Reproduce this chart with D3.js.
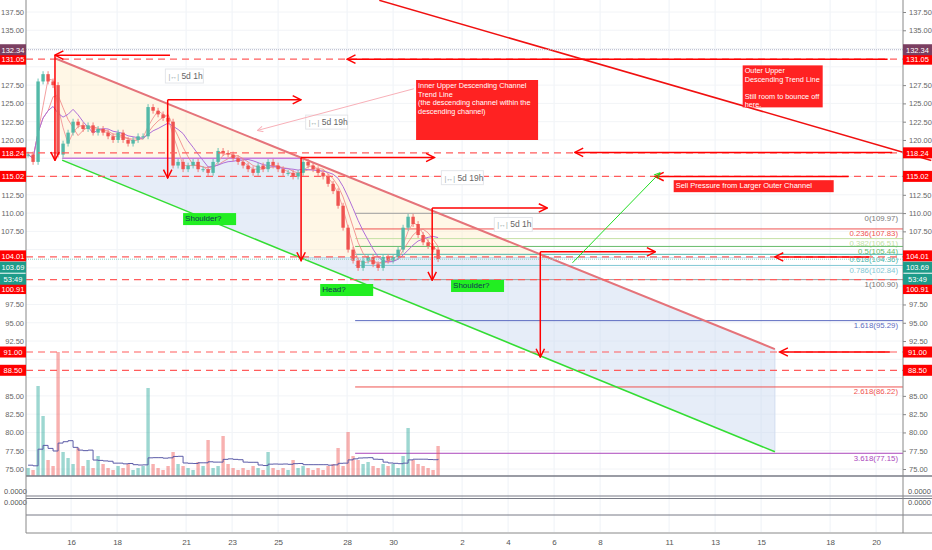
<!DOCTYPE html>
<html>
<head>
<meta charset="UTF-8">
<script src="https://cdn.jsdelivr.net/npm/d3@7/dist/d3.min.js"></script>
<style>
  body { margin: 0; background: #fff; }
  svg { font-family: "Liberation Sans", Arial, sans-serif; }
</style>
</head>
<body>
<svg id="chart" width="932" height="550"></svg>
<script>
// day index 0 = the 16th
const dayTicks = [0, 2, 5, 7, 9, 12, 14, 17, 19, 21, 23, 26, 28, 30, 33, 35];
const dayLabels = ["16", "18", "21", "23", "25", "28", "30", "2", "4", "6", "8", "11", "13", "15", "18", "20"];
const candleStart = -1.87, candleStep = 0.2174;
const closes = [118, 117, 128, 129, 128, 127.5, 118, 119.5, 121, 122.5, 122, 121.5, 122, 121, 121.5, 121, 120.5, 120,
  121, 120, 119.5, 120, 120.5, 120.5, 124.5, 124, 123.5, 123, 122.5, 116.5, 117, 116, 116.5, 117, 116, 116, 115.5,
  117, 118.5, 118.2, 118, 117.5, 117, 116.5, 116, 115.5, 116.5, 116, 117, 116.5, 116, 115.5, 115.5, 115, 115.5, 117,
  116.5, 116, 115.5, 115, 114, 113, 111, 108, 105, 103.5, 102.5, 103.5, 104, 103, 102.5, 104, 103.5, 104, 105, 108,
  109.5, 108.5, 107, 106, 105.5, 105, 103.7];
const volumes = [4, 3, 45, 30, 8, 5, 62, 12, 9, 6, 14, 5, 8, 4, 10, 6, 4, 3, 5, 4, 6, 3, 4, 5, 44, 6, 4, 3, 5, 12,
  6, 5, 4, 3, 7, 5, 18, 4, 5, 20, 6, 4, 3, 4, 3, 5, 4, 3, 12, 4, 3, 4, 3, 8, 4, 5, 4, 3, 4, 3, 5, 6, 14, 5, 22, 10, 8,
  6, 7, 5, 4, 6, 5, 6, 4, 10, 24, 8, 6, 5, 4, 3, 15];
const priceTicks = d3.range(75, 138, 2.5);
const hLevels = [131.05, 118.24, 115.02, 104.01, 100.91, 91.00, 88.50];
const fibRatios = ["0", "0.236", "0.382", "0.5", "0.618", "0.786", "1", "1.618", "2.618", "3.618"];
const fibPrices = [109.97, 107.83, 106.51, 105.44, 104.36, 102.84, 100.90, 95.29, 86.22, 77.15];
const fibColors = ["#9e9e9e", "#ef5350", "#c5e1a5", "#66bb6a", "#4db6ac", "#81c7d4", "#9e9e9e", "#5c6bc0", "#ef5350", "#ab47bc"];
const fibStart = 12.35;
// channel drawing points [day, price]
const upperLine = [[-0.7, 131.17], [30.6, 91.4]];
const lowerLine = [[-0.39, 117.24], [30.6, 77.35]];
const outerLine = [[13.4, 139.1], [37.4, 117.2]];
// measure arrows: [dayStart, dayEnd, priceTop, priceBottom, label, labelDay, labelPrice]
const measures = [
  [-0.7, 4.3, 131.6, 117.2, "5d 1h", 4.1, 129.7],
  [4.2, 10.0, 125.5, 114.8, "5d 19h", 10.2, 123.4],
  [10.0, 15.8, 117.6, 103.5, "5d 19h", 16.1, 115.8],
  [15.7, 20.7, 110.7, 100.8, "5d 1h", 18.4, 109.4],
  [20.4, 25.4, 104.7, 90.3, "", 0, 0]
];
const leftArrows = [[12.0, 35.5, 131.05], [21.9, 35.7, 118.3], [25.4, 33.8, 115.0], [30.6, 34.7, 104.0], [30.8, 35.6, 91.0]];
// axis price tags: value, colour, text, tag offset from level (px)
const tags = [[131.05, "#f00", "131.05", 0], [118.24, "#f00", "118.24", 0], [115.02, "#f00", "115.02", 0],
  [104.01, "#f00", "104.01", -1], [100.91, "#f00", "100.91", 9], [91.00, "#f00", "91.00", 0],
  [88.50, "#f00", "88.50", 0], [132.34, "#7b3f61", "132.34", 0], [103.69, "#1e9c8a", "103.69", 8],
  [103.69, "#1e9c8a", "53:49", 20]];

const svg = d3.select("#chart");
const x = d3.scaleLinear().domain([-1.96, 36.17]).range([26, 903]);
const y = d3.scaleLinear().domain([75, 137.5]).range([469, 12]);
const vol = d3.scaleLinear().domain([0, 60]).range([476, 356]);

const defs = svg.append("defs");
function marker(id, color) {
  defs.append("marker").attr("id", id).attr("viewBox", "0 0 10 10").attr("refX", 9).attr("refY", 5)
    .attr("markerWidth", 7).attr("markerHeight", 7).attr("orient", "auto-start-reverse")
    .append("path").attr("d", "M1,1 L9,5 L1,9").attr("fill", "none").attr("stroke", color).attr("stroke-width", 1.4);
}
marker("ar", "#f00"); marker("ag", "#22dd22"); marker("ap", "#f8b0b8");

// grid
const g = svg.append("g");
g.selectAll(".vg").data(dayTicks).join("line").attr("x1", d => x(d)).attr("x2", d => x(d))
  .attr("y1", 0).attr("y2", 532).attr("stroke", "#eef2f7");
g.selectAll(".hg").data(priceTicks).join("line").attr("x1", 26).attr("x2", 903)
  .attr("y1", d => y(d)).attr("y2", d => y(d)).attr("stroke", "#f2f4f7");

// channel fills
const P = p => [x(p[0]), y(p[1])];
const line = d3.line();
const beige = "rgba(255,238,200,0.45)", blue = "rgba(200,215,240,0.45)";
g.append("path").attr("d", line([P(upperLine[0]), P([10.0, 117.5]), P([-0.39, 117.5])]) + "Z").attr("fill", beige);
g.append("path").attr("d", line([P(lowerLine[0]), P([10.0, 117.5]), P([10.0, 103.9])]) + "Z").attr("fill", blue);
g.append("path").attr("d", line([P([10.0, 117.6]), P([20.9, 103.9]), P([10.0, 103.9])]) + "Z").attr("fill", beige);
g.append("path").attr("d", line([P([10.0, 103.9]), P([20.9, 103.9]), P(upperLine[1]), P(lowerLine[1])]) + "Z").attr("fill", blue);
g.append("line").attr("x1", x(-0.39)).attr("x2", x(10.0)).attr("y1", y(117.5)).attr("y2", y(117.5))
  .attr("stroke", "#c77ddc").attr("stroke-width", 1.5);
g.append("line").attr("x1", x(10.0)).attr("x2", x(30.6)).attr("y1", y(103.9)).attr("y2", y(103.9))
  .attr("stroke", "#b6d7ea").attr("stroke-width", 1);
g.append("line").attr("x1", x(30.6)).attr("x2", x(30.6)).attr("y1", y(91.4)).attr("y2", y(77.35))
  .attr("stroke", "#d0dcef");

// fib levels
fibPrices.forEach((p, i) => {
  g.append("line").attr("x1", x(fibStart)).attr("x2", 903).attr("y1", y(p)).attr("y2", y(p))
    .attr("stroke", fibColors[i]).attr("stroke-width", 1);
  g.append("text").attr("x", 898).attr("y", y(p) + 7.5).attr("text-anchor", "end").attr("font-size", 7.8)
    .attr("fill", fibColors[i] === "#9e9e9e" ? "#777" : fibColors[i]).text(`${fibRatios[i]}(${p.toFixed(2)})`);
});

// volume
const candles = closes.map((c, i) => ({ d: candleStart + i * candleStep, o: i ? closes[i - 1] : c, c, v: volumes[i] }));
const bw = x(candleStep) - x(0) - 1.6;
g.selectAll(".vol").data(candles).join("rect").attr("x", d => x(d.d) - bw / 2).attr("width", bw)
  .attr("y", d => vol(d.v)).attr("height", d => 476 - vol(d.v))
  .attr("fill", d => d.c >= d.o ? "rgba(38,166,154,0.45)" : "rgba(239,83,80,0.45)");
const vAvg = candles.map((d, i) => [x(d.d), vol(d3.mean(volumes.slice(Math.max(0, i - 6), i + 1)) * 0.6 + 3)]);
g.append("path").attr("d", d3.line().curve(d3.curveStepAfter)(vAvg)).attr("fill", "none").attr("stroke", "#5c5ca8");

// moving averages
function sma(n) { return candles.map((d, i) => [x(d.d), y(d3.mean(closes.slice(Math.max(0, i - n + 1), i + 1)))]); }
g.append("path").attr("d", line(sma(3))).attr("fill", "none").attr("stroke", "#f4a0a0").attr("stroke-width", 1);
g.append("path").attr("d", line(sma(5))).attr("fill", "none").attr("stroke", "#f08080").attr("stroke-width", 0.8);
g.append("path").attr("d", line(sma(8))).attr("fill", "none").attr("stroke", "#b06fd8").attr("stroke-width", 1);

// candles
g.selectAll(".wick").data(candles).join("line").attr("x1", d => x(d.d)).attr("x2", d => x(d.d))
  .attr("y1", d => y(Math.max(d.o, d.c) + 0.4)).attr("y2", d => y(Math.min(d.o, d.c) - 0.4))
  .attr("stroke", d => d.c >= d.o ? "#6cc3b6" : "#f27c7a");
g.selectAll(".body").data(candles).join("rect").attr("x", d => x(d.d) - bw / 2).attr("width", bw)
  .attr("y", d => y(Math.max(d.o, d.c))).attr("height", d => Math.max(1, Math.abs(y(d.o) - y(d.c))))
  .attr("fill", d => d.c >= d.o ? "#53b9a8" : "#ef5350");

// trend lines
g.append("path").attr("d", line(upperLine.map(P))).attr("stroke", "#e5737a").attr("stroke-width", 2).attr("fill", "none");
g.append("path").attr("d", line(lowerLine.map(P))).attr("stroke", "#33dd33").attr("stroke-width", 1.5).attr("fill", "none");
g.append("path").attr("d", line(outerLine.map(P))).attr("stroke", "#f01010").attr("stroke-width", 1.5).attr("fill", "none");

// horizontal levels
g.append("line").attr("x1", 26).attr("x2", 903).attr("y1", y(132.34)).attr("y2", y(132.34))
  .attr("stroke", "#b0b4c8").attr("stroke-dasharray", "1,1");
g.append("line").attr("x1", 26).attr("x2", 903).attr("y1", y(103.69)).attr("y2", y(103.69))
  .attr("stroke", "#8fd0c6").attr("stroke-dasharray", "1,1");
g.selectAll(".lvl").data(hLevels).join("line").attr("x1", 26).attr("x2", 903)
  .attr("y1", d => y(d)).attr("y2", d => y(d)).attr("stroke", "#ff5c5c").attr("stroke-width", 1.2)
  .attr("stroke-dasharray", "7,5");

// measure arrows
measures.forEach(m => {
  const [d0, d1, pt, pb, lab, ld, lp] = m;
  g.append("line").attr("x1", x(d0)).attr("x2", x(d1)).attr("y1", y(pt)).attr("y2", y(pt))
    .attr("stroke", "#f00").attr("stroke-width", 1.5)
    .attr("marker-end", d0 < 0 ? null : "url(#ar)").attr("marker-start", d0 < 0 ? "url(#ar)" : null);
  g.append("line").attr("x1", x(d0)).attr("x2", x(d0)).attr("y1", y(pt)).attr("y2", y(pb))
    .attr("stroke", "#f00").attr("stroke-width", 1.5).attr("marker-end", "url(#ar)");
  if (lab) {
    const lg = g.append("g").attr("transform", `translate(${x(ld)},${y(lp)})`);
    lg.append("rect").attr("width", lab.length > 5 ? 42 : 38).attr("height", 14).attr("fill", "#fff")
      .attr("stroke", "#e4e6ea");
    lg.append("text").attr("x", 3).attr("y", 10).attr("font-size", 7).attr("fill", "#9aa").text("|↔|");
    lg.append("text").attr("x", 16).attr("y", 10).attr("font-size", 8.5).attr("fill", "#666").text(lab);
  }
});
leftArrows.forEach(a => {
  g.append("line").attr("x1", x(a[1])).attr("x2", x(a[0])).attr("y1", y(a[2])).attr("y2", y(a[2]))
    .attr("stroke", "#f00").attr("stroke-width", 1.5).attr("marker-end", "url(#ar)");
});
g.append("line").attr("x1", x(14.9)).attr("x2", x(8.1)).attr("y1", y(127.0)).attr("y2", y(121.3))
  .attr("stroke", "#f8b0b8").attr("stroke-width", 1).attr("marker-end", "url(#ap)");
g.append("line").attr("x1", x(21.8)).attr("x2", x(25.6)).attr("y1", y(103.2)).attr("y2", y(115.5))
  .attr("stroke", "#22dd22").attr("stroke-width", 1).attr("marker-end", "url(#ag)");

// note boxes
function note(d, p, w, h, lines, bg, fg, fs) {
  const ng = g.append("g").attr("transform", `translate(${x(d)},${y(p)})`);
  ng.append("rect").attr("width", w).attr("height", h).attr("fill", bg);
  lines.forEach((t, i) => ng.append("text").attr("x", 2).attr("y", 8 + i * 8.5).attr("font-size", fs || 8)
    .attr("fill", fg).text(t));
}
note(15.0, 128.2, 122, 60, ["Inner Upper Descending Channel", "Trend Line", "(the descending channel within the", "descending channel)"], "#f22", "#fff", 7.3);
note(29.2, 130.2, 80, 42, ["Outer Upper", "Descending Trend Line", "", "Still room to bounce off", "here."], "#f22", "#fff", 7.3);
note(26.2, 114.5, 160, 12, ["Sell Pressure from Larger Outer Channel"], "#f22", "#fff", 7.5);
note(4.87, 110.0, 53, 12, ["Shoulder?"], "#22ee22", "#135");
note(10.83, 100.3, 53, 12, ["Head?"], "#22ee22", "#135");
note(16.52, 100.85, 53, 12, ["Shoulder?"], "#22ee22", "#135");

// lower panes
[[476, 1.5, "#787b86"], [496, 1, "#787b86"], [498.5, 1, "#787b86"], [515, 1, "#787b86"]].forEach(l =>
  svg.append("line").attr("x1", 26).attr("x2", 932).attr("y1", l[0]).attr("y2", l[0])
    .attr("stroke", l[2]).attr("stroke-width", l[1]));
[[494, "0.0000"], [505, "0.0000"]].forEach(t => {
  svg.append("text").attr("x", 4).attr("y", t[0]).attr("font-size", 7.5).attr("fill", "#555").text(t[1]);
  svg.append("text").attr("x", 908).attr("y", t[0]).attr("font-size", 7.5).attr("fill", "#555").text(t[1]);
});

// axes
svg.append("line").attr("x1", 26).attr("x2", 26).attr("y1", 0).attr("y2", 533).attr("stroke", "#888");
svg.append("line").attr("x1", 903).attr("x2", 903).attr("y1", 0).attr("y2", 533).attr("stroke", "#888");
svg.append("line").attr("x1", 26).attr("x2", 932).attr("y1", 533).attr("y2", 533).attr("stroke", "#888");
const fmt = d3.format(".2f");
const tagY = tags.map(t => y(t[0]) + t[3]);
const ticksIn = priceTicks.filter(d => y(d) > 4 && tagY.every(ty => Math.abs(ty - y(d)) > 8));
svg.append("g").attr("transform", "translate(903,0)").call(d3.axisRight(y).tickValues(ticksIn).tickFormat(fmt).tickSize(3))
  .call(a => a.select(".domain").remove())
  .call(a => a.selectAll("text").attr("font-size", 7.5).attr("fill", "#666"))
  .call(a => a.selectAll("line").attr("stroke", "#888"));
svg.append("g").attr("transform", "translate(26,0)").call(d3.axisLeft(y).tickValues(ticksIn).tickFormat(fmt).tickSize(0).tickPadding(2))
  .call(a => a.select(".domain").remove())
  .call(a => a.selectAll("text").attr("font-size", 7.5).attr("fill", "#666"));
svg.append("g").attr("transform", "translate(0,533)")
  .call(d3.axisBottom(x).tickValues(dayTicks).tickFormat((d, i) => dayLabels[i]).tickSize(0).tickPadding(6))
  .call(a => a.select(".domain").remove())
  .call(a => a.selectAll("text").attr("font-size", 8).attr("fill", "#555"));

// price tags on both scales
tags.forEach((t, i) => {
  const yy = tagY[i];
  [[0, 26], [903, 29]].forEach(([x0, w]) => {
    svg.append("rect").attr("x", x0).attr("y", yy - 5.5).attr("width", w).attr("height", 11).attr("fill", t[1]);
    svg.append("text").attr("x", x0 + w / 2).attr("y", yy + 3).attr("text-anchor", "middle").attr("font-size", 7.5)
      .attr("fill", "#fff").text(t[2]);
  });
});
</script>
</body>
</html>
